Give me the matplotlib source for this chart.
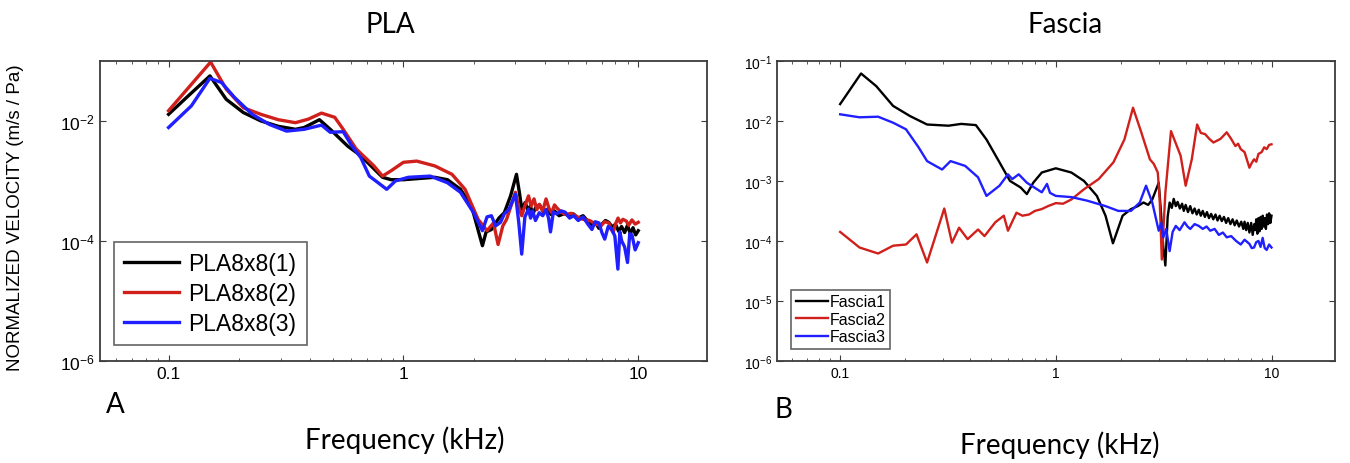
import matplotlib
matplotlib.use("Agg")
import matplotlib.pyplot as plt
import numpy as np
from matplotlib.ticker import NullLocator

plt.rcParams['font.family'] = ['Liberation Sans', 'DejaVu Sans']
plt.rcParams['mathtext.default'] = 'regular'

# ---- panel A : PLA (frequency kHz, log10 of velocity) ----
pla1_f = [0.100, 0.120, 0.150, 0.176, 0.208, 0.247, 0.293, 0.347, 0.378, 0.439, 0.488, 0.579,
          0.658, 0.815, 0.887, 1.00, 1.36, 1.54, 1.75, 1.95, 2.17, 2.25, 2.37, 2.55, 2.69, 2.86,
          3.03, 3.12, 3.19, 3.30, 3.40, 3.47, 3.56, 3.65, 3.80, 3.95, 4.11, 4.25, 4.40, 4.60,
          4.88, 5.10, 5.30, 5.55, 5.82, 6.00, 6.20, 6.40, 6.58, 6.80, 7.00, 7.25, 7.49, 7.75,
          8.00, 8.25, 8.49, 8.75, 9.00, 9.25, 9.50, 9.75, 10.0]
pla1_v = [-1.89, -1.60, -1.25, -1.64, -1.86, -2.00, -2.09, -2.14, -2.11, -1.98, -2.14, -2.42,
          -2.58, -2.94, -2.98, -2.98, -2.94, -2.98, -3.14, -3.42, -4.08, -3.85, -3.81, -3.62, -3.53, -3.25,
          -2.89, -3.20, -3.47, -3.36, -3.50, -3.42, -3.55, -3.45, -3.40, -3.52, -3.47, -3.56, -3.50, -3.58,
          -3.54, -3.60, -3.55, -3.62, -3.58, -3.64, -3.68, -3.74, -3.70, -3.79, -3.72, -3.66, -3.69, -3.77,
          -3.72, -3.84, -3.76, -3.86, -3.74, -3.88, -3.78, -3.90, -3.83]

pla2_f = [0.100, 0.151, 0.176, 0.208, 0.247, 0.293, 0.347, 0.394, 0.448, 0.510, 0.554, 0.630,
          0.749, 0.815, 0.887, 1.00, 1.14, 1.36, 1.61, 1.83, 2.08, 2.27, 2.42, 2.53, 2.65, 2.75,
          3.00, 3.10, 3.19, 3.30, 3.41, 3.50, 3.60, 3.70, 3.79, 3.92, 4.05, 4.17, 4.28, 4.40,
          4.50, 4.70, 4.88, 5.20, 5.50, 5.82, 6.20, 6.60, 6.93, 7.20, 7.49, 7.65, 7.82, 8.00,
          8.20, 8.40, 8.60, 8.90, 9.10, 9.40, 9.70, 10.0]
pla2_v = [-1.83, -1.02, -1.47, -1.78, -1.89, -1.98, -2.03, -1.97, -1.87, -1.94, -2.14, -2.47,
          -2.75, -2.92, -2.83, -2.69, -2.67, -2.75, -2.89, -3.14, -3.64, -3.83, -3.70, -4.06, -3.75, -3.64,
          -3.19, -3.45, -3.58, -3.40, -3.25, -3.42, -3.30, -3.48, -3.39, -3.50, -3.30, -3.46, -3.53, -3.40,
          -3.45, -3.52, -3.56, -3.54, -3.60, -3.64, -3.66, -3.72, -3.75, -3.68, -3.70, -3.80, -3.86, -3.72,
          -3.62, -3.70, -3.64, -3.67, -3.74, -3.65, -3.72, -3.69]

pla3_f = [0.100, 0.125, 0.150, 0.168, 0.191, 0.227, 0.269, 0.318, 0.378, 0.448, 0.488, 0.554,
          0.604, 0.658, 0.716, 0.780, 0.849, 0.925, 1.05, 1.30, 1.54, 1.75, 1.99, 2.17, 2.27, 2.37,
          2.47, 2.59, 2.69, 2.82, 3.00, 3.10, 3.19, 3.29, 3.41, 3.48, 3.55, 3.65, 3.79, 3.92,
          4.05, 4.15, 4.23, 4.35, 4.49, 4.70, 4.88, 5.10, 5.31, 5.55, 5.82, 6.10, 6.35, 6.55,
          6.80, 7.00, 7.20, 7.45, 7.70, 7.95, 8.19, 8.35, 8.50, 8.75, 9.00, 9.20, 9.40, 9.70, 10.0]
pla3_v = [-2.11, -1.75, -1.29, -1.36, -1.61, -1.89, -2.06, -2.17, -2.14, -2.07, -2.19, -2.18,
          -2.42, -2.61, -2.92, -3.03, -3.14, -3.00, -2.94, -2.92, -3.03, -3.19, -3.53, -3.83, -3.60, -3.58,
          -3.75, -3.69, -3.55, -3.47, -3.22, -3.70, -4.22, -3.60, -3.47, -3.62, -3.50, -3.66, -3.53, -3.58,
          -3.48, -3.62, -3.85, -3.52, -3.55, -3.50, -3.52, -3.62, -3.58, -3.66, -3.60, -3.72, -3.81, -3.68,
          -3.70, -3.86, -3.97, -3.76, -3.80, -3.92, -4.47, -3.85, -4.00, -4.10, -4.36, -3.88, -3.90, -4.15, -4.03]

# ---- panel B : Fascia ----
fas1_f = [0.100, 0.125, 0.147, 0.176, 0.211, 0.253, 0.318, 0.364, 0.426, 0.477, 0.548, 0.613,
          0.687, 0.734, 0.786, 0.861, 1.00, 1.18, 1.35, 1.55, 1.70, 1.84, 2.04, 2.23, 2.40, 2.55,
          2.68, 2.80, 3.00, 3.07, 3.15, 3.22, 3.30, 3.37, 3.45, 3.52, 3.60, 3.67, 3.76, 3.85,
          3.92, 4.00, 4.10, 4.20, 4.30, 4.40, 4.50, 4.60, 4.70, 4.80, 4.91, 5.02, 5.13, 5.25,
          5.37, 5.50, 5.62, 5.75, 5.88, 6.02, 6.16, 6.30, 6.45, 6.60, 6.75, 6.90, 7.07, 7.24,
          7.40, 7.50, 7.63, 7.76, 7.90, 8.05, 8.18, 8.32, 8.41, 8.50, 8.60, 8.70, 8.80, 8.90,
          9.00, 9.10, 9.20, 9.30, 9.42, 9.53, 9.65, 9.75, 9.88, 10.0]
fas1_v = [-1.72, -1.21, -1.42, -1.75, -1.92, -2.06, -2.08, -2.05, -2.07, -2.31, -2.69, -3.00,
          -3.11, -3.22, -3.03, -2.86, -2.79, -2.86, -3.00, -3.25, -3.58, -4.04, -3.58, -3.47, -3.42, -3.36,
          -3.40, -3.31, -3.03, -3.50, -4.10, -4.41, -3.60, -3.36, -3.45, -3.30, -3.42, -3.35, -3.46, -3.38,
          -3.50, -3.40, -3.52, -3.42, -3.54, -3.46, -3.56, -3.48, -3.58, -3.50, -3.60, -3.52, -3.62, -3.55,
          -3.64, -3.56, -3.66, -3.58, -3.67, -3.60, -3.70, -3.62, -3.72, -3.64, -3.74, -3.66, -3.76, -3.68,
          -3.80, -3.68, -3.82, -3.70, -3.86, -3.70, -3.90, -3.72, -3.82, -3.64, -3.88, -3.62, -3.84, -3.60,
          -3.80, -3.58, -3.76, -3.62, -3.80, -3.56, -3.72, -3.54, -3.70, -3.58]

fas2_f = [0.100, 0.123, 0.150, 0.176, 0.202, 0.226, 0.253, 0.304, 0.330, 0.356, 0.390, 0.436,
          0.467, 0.524, 0.574, 0.600, 0.657, 0.700, 0.751, 0.800, 0.860, 0.920, 1.00, 1.08, 1.18,
          1.35, 1.58, 1.85, 2.08, 2.28, 2.49, 2.73, 2.85, 2.97, 3.03, 3.10, 3.22, 3.42, 3.79, 4.00,
          4.27, 4.52, 4.70, 4.92, 5.15, 5.38, 5.80, 6.20, 6.50, 6.80, 7.00, 7.20, 7.50, 7.90,
          8.10, 8.30, 8.50, 8.70, 9.00, 9.25, 9.50, 9.75, 10.0]
fas2_v = [-3.85, -4.11, -4.21, -4.08, -4.06, -3.89, -4.36, -3.46, -4.03, -3.78, -3.97, -3.81,
          -3.92, -3.69, -3.58, -3.83, -3.53, -3.58, -3.56, -3.50, -3.47, -3.42, -3.37, -3.38, -3.31,
          -3.14, -2.97, -2.69, -2.31, -1.78, -2.19, -2.64, -2.72, -2.86, -3.30, -4.31, -3.20, -2.17, -2.58, -3.08,
          -2.64, -2.06, -2.20, -2.22, -2.30, -2.36, -2.30, -2.19, -2.30, -2.42, -2.38, -2.47, -2.52, -2.78,
          -2.70, -2.64, -2.68, -2.55, -2.52, -2.44, -2.47, -2.40, -2.39]

fas3_f = [0.100, 0.123, 0.150, 0.176, 0.202, 0.231, 0.253, 0.277, 0.297, 0.325, 0.380, 0.436,
          0.477, 0.548, 0.600, 0.628, 0.673, 0.734, 0.861, 0.910, 0.940, 1.00, 1.18, 1.40, 1.70,
          1.95, 2.23, 2.45, 2.62, 2.80, 3.00, 3.08, 3.15, 3.25, 3.37, 3.48, 3.60, 3.75, 3.95,
          4.08, 4.20, 4.40, 4.60, 4.80, 5.00, 5.20, 5.45, 5.70, 5.95, 6.20, 6.50, 6.85, 7.20,
          7.50, 7.90, 8.10, 8.30, 8.50, 8.70, 8.90, 9.10, 9.30, 9.50, 9.75, 10.0]
fas3_v = [-1.89, -1.94, -1.93, -2.03, -2.14, -2.44, -2.67, -2.75, -2.81, -2.67, -2.75, -2.94,
          -3.25, -3.08, -2.89, -2.97, -2.89, -3.03, -3.19, -3.05, -3.20, -3.25, -3.27, -3.33, -3.42,
          -3.50, -3.50, -3.36, -3.08, -3.36, -3.83, -3.70, -3.94, -3.80, -4.17, -3.85, -3.75, -3.82, -3.69,
          -3.76, -3.80, -3.72, -3.75, -3.80, -3.76, -3.83, -3.80, -3.90, -3.86, -3.94, -3.92, -4.00, -4.06,
          -3.98, -4.05, -4.12, -4.11, -4.02, -4.00, -4.10, -3.95, -4.12, -4.15, -4.06, -4.11]

black = '#000000'
red = '#d0201c'
blue = '#1f1fff'
frame = '#3c3c3c'

fig = plt.figure(figsize=(13.5, 4.64), dpi=100)
axA = fig.add_axes([0.074, 0.22, 0.450, 0.6466])
axB = fig.add_axes([0.5756, 0.22, 0.4133, 0.6466])

axA.plot(pla1_f, 10 ** np.array(pla1_v), color=black, lw=2.4, label='PLA8x8(1)')
axA.plot(pla2_f, 10 ** np.array(pla2_v), color=red, lw=2.4, label='PLA8x8(2)')
axA.plot(pla3_f, 10 ** np.array(pla3_v), color=blue, lw=2.4, label='PLA8x8(3)')

axB.plot(fas1_f, 10 ** np.array(fas1_v), color=black, lw=1.7, label='Fascia1')
axB.plot(fas2_f, 10 ** np.array(fas2_v), color=red, lw=1.7, label='Fascia2')
axB.plot(fas3_f, 10 ** np.array(fas3_v), color=blue, lw=1.7, label='Fascia3')

for ax in (axA, axB):
    ax.set_xscale('log')
    ax.set_yscale('log')
    ax.set_xlim(0.051, 19.7)
    ax.set_ylim(1e-6, 1e-1)
    ax.set_xticks([0.1, 1, 10])
    ax.set_xticklabels(['0.1', '1', '10'])
    ax.yaxis.set_minor_locator(NullLocator())
    ax.tick_params(which='both', direction='in', top=True, right=True, color=frame)
    ax.tick_params(which='major', length=4)
    ax.tick_params(which='minor', length=2.5)
    for s in ax.spines.values():
        s.set_color(frame)
        s.set_linewidth(1.3)

axA.set_yticks([1e-2, 1e-4, 1e-6])
axA.set_yticklabels(['$10^{-2}$', '$10^{-4}$', '$10^{-6}$'])
axA.tick_params(axis='both', which='major', labelsize=12.5)
axB.set_yticks([1e-1, 1e-2, 1e-3, 1e-4, 1e-5, 1e-6])
axB.set_yticklabels(['$10^{-1}$', '$10^{-2}$', '$10^{-3}$', '$10^{-4}$', '$10^{-5}$', '$10^{-6}$'])
axB.tick_params(axis='both', which='major', labelsize=10)

legA = axA.legend(loc='lower left', bbox_to_anchor=(0.023, 0.053), borderaxespad=0, fontsize=16.5,
                  frameon=True, fancybox=False, edgecolor=frame, handlelength=2.4, handletextpad=0.4,
                  borderpad=0.45, labelspacing=0.3)
legA.get_frame().set_linewidth(1.2)
legB = axB.legend(loc='lower left', bbox_to_anchor=(0.025, 0.04), borderaxespad=0, fontsize=11.5,
                  frameon=True, fancybox=False, edgecolor=frame, handlelength=2.0, handletextpad=0.1,
                  borderpad=0.3, labelspacing=0.15)
legB.get_frame().set_linewidth(1.2)

fig.text(16 / 1350, 1 - 218 / 464, 'NORMALIZED VELOCITY (m/s / Pa)', fontsize=13.5,
         rotation=90, ha='center', va='center')

cal = ['Lato', 'DejaVu Sans']
fig.text(390 / 1350, 1 - 25 / 464, 'PLA', family=cal, fontsize=20, ha='center', va='center')
fig.text(1065 / 1350, 1 - 25 / 464, 'Fascia', family=cal, fontsize=20, ha='center', va='center')
fig.text(405 / 1350, 1 - 440 / 464, 'Frequency (kHz)', family=cal, fontsize=20, ha='center', va='center')
fig.text(1060 / 1350, 1 - 445 / 464, 'Frequency (kHz)', family=cal, fontsize=20, ha='center', va='center')
fig.text(115 / 1350, 1 - 405 / 464, 'A', family=cal, fontsize=20, ha='center', va='center')
fig.text(783 / 1350, 1 - 410 / 464, 'B', family=cal, fontsize=20, ha='center', va='center')

fig.savefig('out.png', dpi=100)
